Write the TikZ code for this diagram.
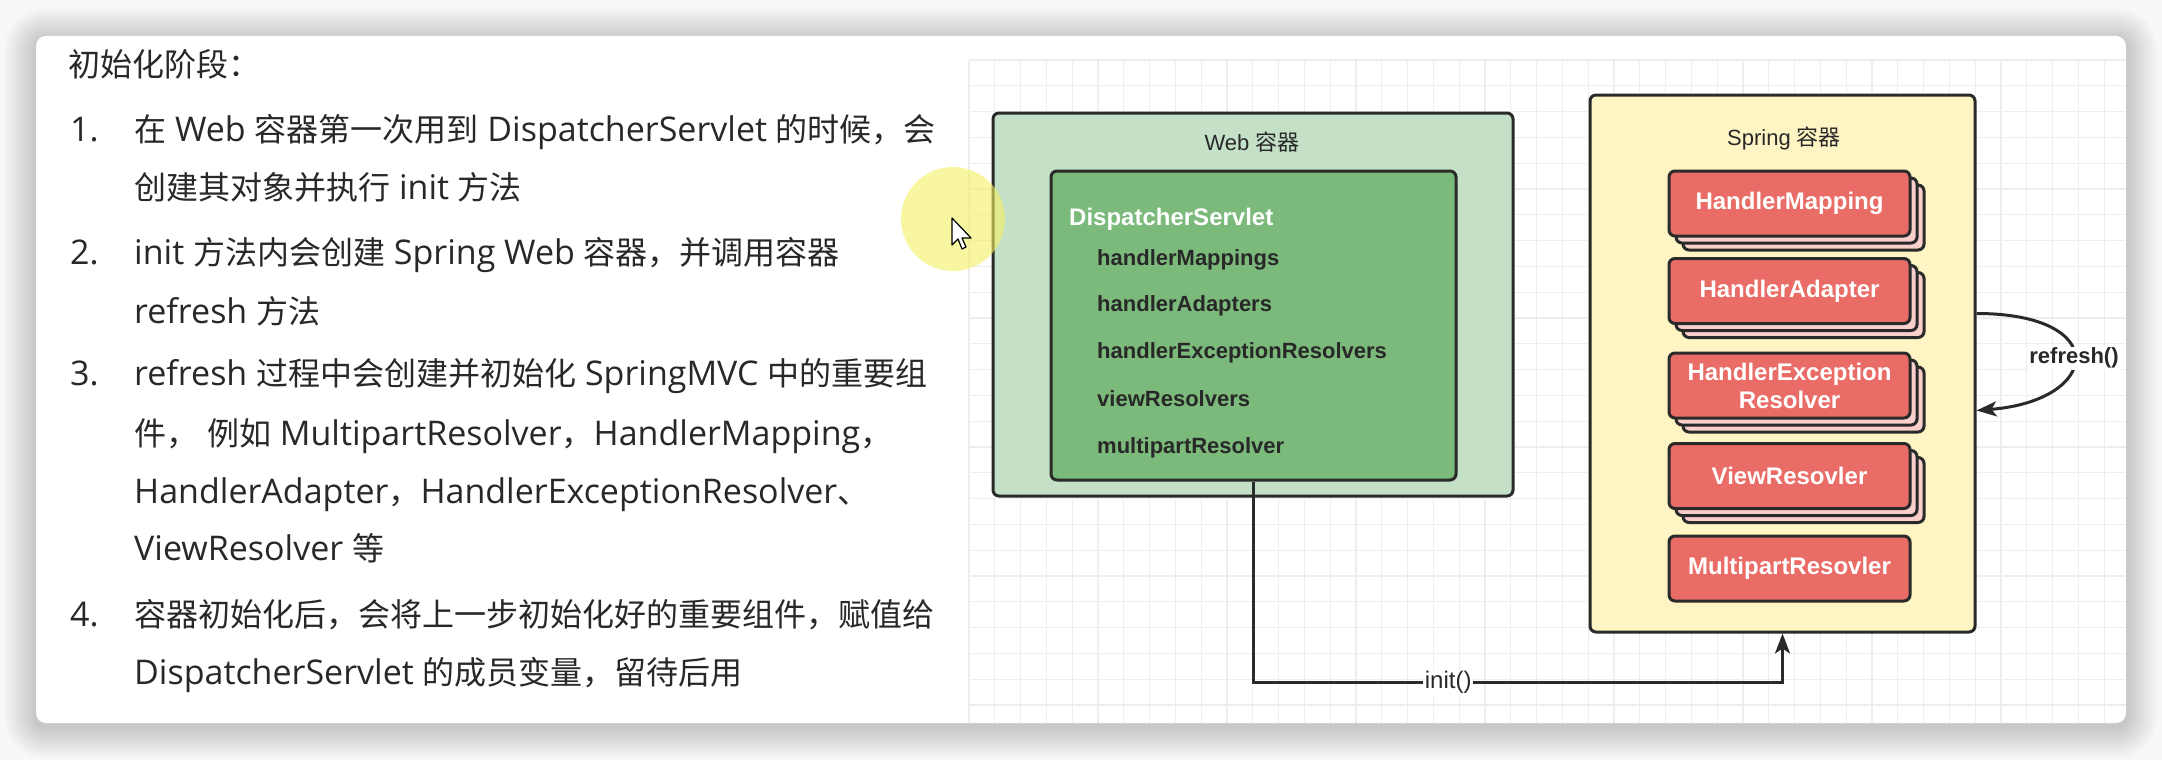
\documentclass[tikz,border=0pt]{standalone}
\usepackage{fontspec}
\setmainfont{Liberation Sans}
\newfontfamily\cjkfont{Noto Sans CJK SC}
\newfontfamily\notesfont{Open Sans}
\usepackage{xcolor}
\usetikzlibrary{positioning,calc,arrows.meta,shadows}

\definecolor{pagebg}{RGB}{248,248,248}
\definecolor{gridink}{RGB}{238,238,238}
\definecolor{inktext}{RGB}{40,40,40}
\definecolor{edgeink}{RGB}{42,42,42}
\definecolor{webgreen}{RGB}{196,224,198}
\definecolor{servletgreen}{RGB}{123,186,123}
\definecolor{springyellow}{RGB}{255,245,196}
\definecolor{beanred}{RGB}{234,108,102}
\definecolor{beanpink}{RGB}{249,207,204}
\definecolor{cursorhalo}{RGB}{245,240,100}

\newcommand{\zhrun}[1]{{\cjkfont\fontsize{32}{38}\selectfont #1}}

\begin{document}
\begin{tikzpicture}[x=1pt, y=-1pt, >={Stealth[length=20pt,width=15pt,inset=5pt]},
    notes/.style={anchor=base west, inner sep=0pt, text=inktext, font=\notesfont\fontsize{34}{38}\selectfont},
    box/.style={draw=edgeink, line width=3pt, rounded corners=6pt, inner sep=0pt},
    bean/.style={box, fill=beanred, minimum width=241pt, minimum height=65pt, align=center, text=white, font=\fontsize{24}{28}\selectfont\bfseries},
    beanstack/.style={bean,
        copy shadow={shadow xshift=14pt, shadow yshift=-14pt, fill=beanpink, draw=edgeink, line width=3pt},
        copy shadow={shadow xshift=7pt, shadow yshift=-7pt, fill=beanpink, draw=edgeink, line width=3pt}},
    field/.style={anchor=base west, inner sep=0pt, text=inktext, font=\fontsize{22}{26}\selectfont\bfseries},
    title/.style={text=inktext, inner sep=0pt, font=\fontsize{22}{26}\selectfont},
    flow/.style={draw=edgeink, line width=3pt, ->},
    flowlabel/.style={fill=white, inner sep=1.5pt, text=inktext, font=\fontsize{24}{26}\selectfont}]

    \useasboundingbox (0,0) rectangle (2162,760);
    \fill[pagebg] (0,0) rectangle (2162,760);

    % card with its soft shadow
    \foreach \s in {2,4,...,32} {
        \pgfmathsetmacro\rc{10+\s}
        \fill[black, opacity=0.011, rounded corners=\rc pt] (36-\s,36-\s+4) rectangle (2126+\s,723+\s+4);
    }
    \fill[white, rounded corners=10pt] (36,36) rectangle (2126,723);

    \begin{scope}
        \clip[rounded corners=10pt] (36,36) rectangle (2126,723);
        \foreach \gx in {969,994.8,...,2130} \draw[gridink, line width=1.3pt] (\gx,60) -- (\gx,723);
        \foreach \gy in {60,85.8,...,725} \draw[gridink, line width=1.3pt] (969,\gy) -- (2126,\gy);
    \end{scope}

    % notes on the left
    \node[notes] (heading) at (68,77) {\zhrun{初始化阶段：}};
    \node[notes] (n1) at (70,141) {1.};
    \node[notes] (s1a) at (134,141) {\zhrun{在} Web \zhrun{容器第一次用到} DispatcherServlet \zhrun{的时候，会}};
    \node[notes] (s1b) at (134,199) {\zhrun{创建其对象并执行} init \zhrun{方法}};
    \node[notes] (n2) at (70,264) {2.};
    \node[notes] (s2a) at (134,264) {init \zhrun{方法内会创建} Spring Web \zhrun{容器，并调用容器}};
    \node[notes] (s2b) at (134,323) {refresh \zhrun{方法}};
    \node[notes] (n3) at (70,385) {3.};
    \node[notes] (s3a) at (134,385) {refresh \zhrun{过程中会创建并初始化} SpringMVC \zhrun{中的重要组}};
    \node[notes] (s3b) at (134,445) {\zhrun{件，} \zhrun{例如} MultipartResolver\zhrun{，}HandlerMapping\zhrun{，}};
    \node[notes] (s3c) at (134,503) {HandlerAdapter\zhrun{，}HandlerExceptionResolver\zhrun{、}};
    \node[notes] (s3d) at (134,560) {ViewResolver \zhrun{等}};
    \node[notes] (n4) at (70,626) {4.};
    \node[notes] (s4a) at (134,626) {\zhrun{容器初始化后，会将上一步初始化好的重要组件，赋值给}};
    \node[notes] (s4b) at (134,684) {DispatcherServlet \zhrun{的成员变量，留待后用}};

    % web container
    \node[box, fill=webgreen, minimum width=520pt, minimum height=383pt] (web) at (1253,304.5) {};
    \node[title] (webtitle) at (1252,142) {Web {\cjkfont 容器}};
    \node[box, fill=servletgreen, minimum width=405pt, minimum height=309pt] (ds) at (1253.5,325.5) {};
    \node[field, text=white, font=\fontsize{24}{28}\selectfont\bfseries] (dsname) at (1069,225) {DispatcherServlet};
    \node[field] (hm) at (1097,265) {handlerMappings};
    \node[field] (ha) at (1097,311) {handlerAdapters};
    \node[field] (her) at (1097,358) {handlerExceptionResolvers};
    \node[field] (vr) at (1097,406) {viewResolvers};
    \node[field] (mr) at (1097,453) {multipartResolver};

    % spring container
    \node[box, fill=springyellow, minimum width=385pt, minimum height=537pt] (spring) at (1782.5,363.5) {};
    \node[title] (springtitle) at (1784,138) {Spring {\cjkfont 容器}};
    \node[beanstack] (mapping) at (1789.5,203.5) {HandlerMapping};
    \node[beanstack] (adapter) at (1789.5,291) {HandlerAdapter};
    \node[beanstack] (exresolver) at (1789.5,385.5) {HandlerException\\Resolver};
    \node[beanstack] (viewresolver) at (1789.5,476) {ViewResovler};
    \node[bean] (multipart) at (1789.5,568.5) {MultipartResovler};

    \draw[flow] (ds.south) |- node[pos=0.684, flowlabel] {init()} ([yshift=-49pt]spring.south) -- (spring.south);
    \draw[flow] ($(spring.east)+(0,-50)$) .. controls ($(spring.east)+(135,-50)$) and ($(spring.east)+(125,37)$) ..
        node[midway, flowlabel, font=\fontsize{22}{26}\selectfont\bfseries] {refresh()} ($(spring.east)+(0,47)$);

    % pointer highlight
    \fill[cursorhalo, opacity=0.6] (953,219) circle (52pt);
    \filldraw[fill=white, draw=black, line width=1.2pt, line join=round] (952,218) -- ++(0,27) -- ++(6,-6) -- ++(4,10) -- ++(4,-2) -- ++(-4,-9) -- ++(9,0) -- cycle;
\end{tikzpicture}
\end{document}
